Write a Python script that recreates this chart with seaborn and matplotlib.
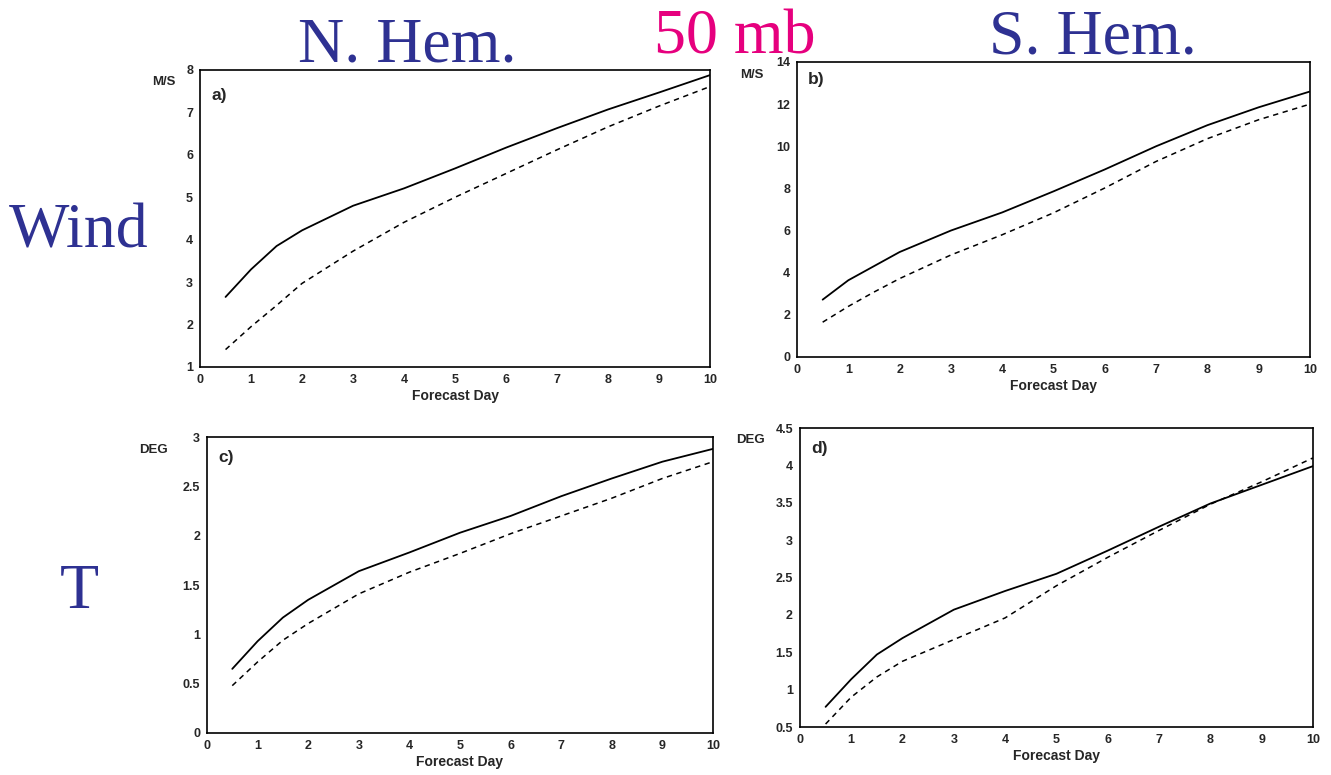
#!/usr/bin/env python3
"""
Forecast error growth at 50 mb: wind (M/S) and temperature (DEG)
for the northern and southern hemispheres, two experiments each.
"""
import matplotlib
matplotlib.use('Agg')
import matplotlib.pyplot as plt
import seaborn as sns

# forecast days at which the scores are given
DAYS = [0.5, 1, 1.5, 2, 3, 4, 5, 6, 7, 8, 9, 10]

# a) N. Hem. wind
NH_WIND_SOLID = [2.65, 3.3, 3.85, 4.22, 4.8, 5.21, 5.68, 6.17, 6.63, 7.07, 7.47, 7.88]
NH_WIND_DASH = [1.41, 1.95, 2.45, 2.97, 3.73, 4.41, 5.0, 5.56, 6.12, 6.66, 7.15, 7.61]
# b) S. Hem. wind
SH_WIND_SOLID = [2.72, 3.64, 4.31, 4.98, 6.0, 6.86, 7.86, 8.9, 10.0, 11.0, 11.85, 12.6]
SH_WIND_DASH = [1.65, 2.4, 3.08, 3.72, 4.84, 5.8, 6.84, 8.02, 9.28, 10.36, 11.26, 12.0]
# c) N. Hem. temperature
NH_T_SOLID = [0.65, 0.93, 1.17, 1.35, 1.64, 1.83, 2.03, 2.2, 2.4, 2.58, 2.75, 2.88]
NH_T_DASH = [0.48, 0.72, 0.94, 1.11, 1.41, 1.63, 1.82, 2.02, 2.2, 2.38, 2.58, 2.75]
# d) S. Hem. temperature
SH_T_SOLID = [0.77, 1.14, 1.47, 1.69, 2.07, 2.32, 2.55, 2.86, 3.18, 3.49, 3.74, 3.99]
SH_T_DASH = [0.54, 0.9, 1.17, 1.38, 1.67, 1.96, 2.39, 2.77, 3.13, 3.48, 3.78, 4.1]

XTICKS = list(range(0, 11))
BLUE = '#2e3192'
PINK = '#e6007e'

sns.set_style('white')
plt.rcParams['font.family'] = ['Liberation Sans', 'DejaVu Sans']

fig = plt.figure(figsize=(13.31, 7.75), dpi=100)

panels = [
    # rect, solid, dashed, ylim, yticks, ticklabels, unit, unit pos, tag, tag pos
    ([0.1503, 0.5265, 0.3832, 0.3832], NH_WIND_SOLID, NH_WIND_DASH, (1, 8),
     list(range(1, 9)), None, 'M/S', (-0.049, 0.96), 'a)', (0.022, 0.915)),
    ([0.5988, 0.5394, 0.3854, 0.3806], SH_WIND_SOLID, SH_WIND_DASH, (0, 14),
     list(range(0, 15, 2)), None, 'M/S', (-0.066, 0.955), 'b)', (0.022, 0.94)),
    ([0.1555, 0.0542, 0.3802, 0.3819], NH_T_SOLID, NH_T_DASH, (0, 3),
     [0, 0.5, 1, 1.5, 2, 2.5, 3], ['0', '0.5', '1', '1.5', '2', '2.5', '3'],
     'DEG', (-0.077, 0.955), 'c)', (0.022, 0.93)),
    ([0.6010, 0.0619, 0.3854, 0.3858], SH_T_SOLID, SH_T_DASH, (0.5, 4.5),
     [0.5, 1, 1.5, 2, 2.5, 3, 3.5, 4, 4.5],
     ['0.5', '1', '1.5', '2', '2.5', '3', '3.5', '4', '4.5'],
     'DEG', (-0.068, 0.96), 'd)', (0.022, 0.933)),
]

for rect, solid, dash, ylim, yticks, ylabels, unit, upos, tag, tpos in panels:
    ax = fig.add_axes(rect)
    sns.lineplot(x=DAYS, y=solid, ax=ax, color='black', linewidth=1.3)
    sns.lineplot(x=DAYS, y=dash, ax=ax, color='black', linewidth=1.1,
                 linestyle=(0, (3.5, 3)))
    ax.set_xlim(0, 10)
    ax.set_ylim(*ylim)
    ax.set_xticks(XTICKS)
    ax.set_yticks(yticks)
    if ylabels is not None:
        ax.set_yticklabels(ylabels)
    ax.tick_params(length=0, labelsize=9, pad=5)
    for lab in ax.get_xticklabels() + ax.get_yticklabels():
        lab.set_fontweight('bold')
    for sp in ax.spines.values():
        sp.set_visible(True)
        sp.set_color('black')
        sp.set_linewidth(1.2)
    ax.set_xlabel('Forecast Day', fontsize=10, fontweight='bold', labelpad=2)
    ax.set_ylabel('')
    ax.text(upos[0], upos[1], unit, transform=ax.transAxes, ha='right',
            va='center', fontsize=9.5, fontweight='bold')
    ax.text(tpos[0], tpos[1], tag, transform=ax.transAxes, ha='left',
            va='center', fontsize=12.5, fontweight='bold')

# big slide annotations
serif = ['Liberation Serif', 'DejaVu Serif']
big = dict(fontsize=46, family=serif, ha='center', va='baseline')
fig.text(407 / 1331, 1 - 62 / 775, 'N. Hem.', color=BLUE, **big)
fig.text(735 / 1331, 1 - 53 / 775, '50 mb', color=PINK, **big)
fig.text(1093 / 1331, 1 - 53 / 775, 'S. Hem.', color=BLUE, **big)
fig.text(79 / 1331, 1 - 248 / 775, 'Wind', color=BLUE, **big)
fig.text(79 / 1331, 1 - 608 / 775, 'T', color=BLUE, **big)

fig.savefig('out.png', dpi=100)
